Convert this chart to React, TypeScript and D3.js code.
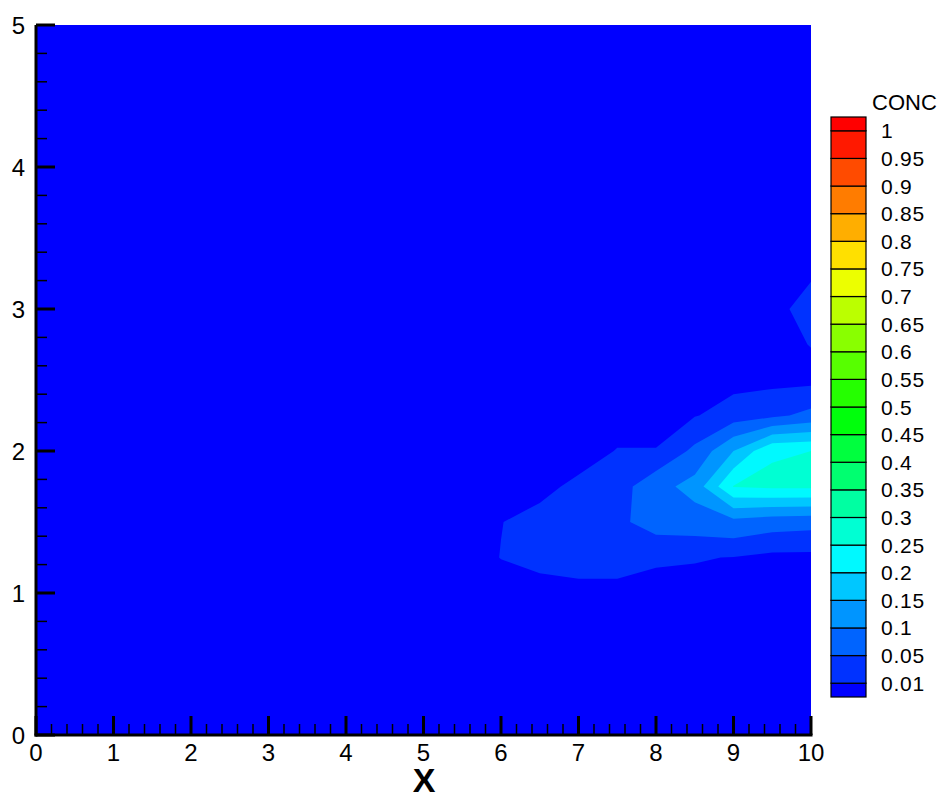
import React from 'react';
import * as d3 from 'd3';

// Grid node coordinates
const xNodes = [0, 0.5, 1, 1.5, 2, 2.5, 3, 3.5, 4, 4.5, 5, 5.5, 6, 6.5, 7, 7.5, 8, 8.5, 9, 9.5, 10];
const yNodes = [0, 0.25, 0.5, 0.75, 1, 1.25, 1.5, 1.75, 2, 2.25, 2.5, 2.75, 3, 3.25, 3.5, 3.75, 4, 4.25, 4.5, 4.75, 5];

// CONC values, one row per yNodes entry (ascending y), one column per xNodes entry
const concRows = [
  [0, 0, 0, 0, 0, 0, 0, 0, 0, 0, 0, 0, 0, 0, 0, 0, 0, 0, 0, 0, 0], // y=0
  [0, 0, 0, 0, 0, 0, 0, 0, 0, 0, 0, 0, 0, 0, 0, 0, 0, 0, 0, 0, 0], // y=0.25
  [0, 0, 0, 0, 0, 0, 0, 0, 0, 0, 0, 0, 0, 0, 0, 0, 0, 0, 0, 0, 0], // y=0.5
  [0, 0, 0, 0, 0, 0, 0, 0, 0, 0, 0, 0, 0, 0, 0, 0, 0, 0, 0, 0, 0], // y=0.75
  [0, 0, 0, 0, 0, 0, 0, 0, 0, 0, 0, 0, 0, 0, 0, 0, 0, 0, 0, 0, 0], // y=1
  [0, 0, 0, 0, 0, 0, 0, 0, 0, 0, 0, 0, 0.0105, 0.018, 0.025, 0.025, 0.014, 0.012, 0.009, 0, 0], // y=1.25
  [0, 0, 0, 0, 0, 0, 0, 0, 0, 0, 0, 0, 0.0095, 0.017, 0.03, 0.04, 0.07, 0.075, 0.085, 0.07, 0.065], // y=1.5
  [0, 0, 0, 0, 0, 0, 0, 0, 0, 0, 0, 0, 0, 0.004, 0.015, 0.03, 0.08, 0.12, 0.252, 0.26, 0.26], // y=1.75
  [0, 0, 0, 0, 0, 0, 0, 0, 0, 0, 0, 0, 0, 0, 0, 0.011, 0.011, 0.06, 0.15, 0.245, 0.25], // y=2
  [0, 0, 0, 0, 0, 0, 0, 0, 0, 0, 0, 0, 0, 0, 0, 0, 0, 0.008, 0.025, 0.04, 0.0625], // y=2.25
  [0, 0, 0, 0, 0, 0, 0, 0, 0, 0, 0, 0, 0, 0, 0, 0, 0, 0, 0, 0, 0], // y=2.5
  [0, 0, 0, 0, 0, 0, 0, 0, 0, 0, 0, 0, 0, 0, 0, 0, 0, 0, 0, 0, 0.011], // y=2.75
  [0, 0, 0, 0, 0, 0, 0, 0, 0, 0, 0, 0, 0, 0, 0, 0, 0, 0, 0, 0.002, 0.02], // y=3
  [0, 0, 0, 0, 0, 0, 0, 0, 0, 0, 0, 0, 0, 0, 0, 0, 0, 0, 0, 0, 0.007], // y=3.25
  [0, 0, 0, 0, 0, 0, 0, 0, 0, 0, 0, 0, 0, 0, 0, 0, 0, 0, 0, 0, 0], // y=3.5
  [0, 0, 0, 0, 0, 0, 0, 0, 0, 0, 0, 0, 0, 0, 0, 0, 0, 0, 0, 0, 0], // y=3.75
  [0, 0, 0, 0, 0, 0, 0, 0, 0, 0, 0, 0, 0, 0, 0, 0, 0, 0, 0, 0, 0], // y=4
  [0, 0, 0, 0, 0, 0, 0, 0, 0, 0, 0, 0, 0, 0, 0, 0, 0, 0, 0, 0, 0], // y=4.25
  [0, 0, 0, 0, 0, 0, 0, 0, 0, 0, 0, 0, 0, 0, 0, 0, 0, 0, 0, 0, 0], // y=4.5
  [0, 0, 0, 0, 0, 0, 0, 0, 0, 0, 0, 0, 0, 0, 0, 0, 0, 0, 0, 0, 0], // y=4.75
  [0, 0, 0, 0, 0, 0, 0, 0, 0, 0, 0, 0, 0, 0, 0, 0, 0, 0, 0, 0, 0], // y=5
];

// Contour levels (legend)
const levels = [0.01, 0.05, 0.1, 0.15, 0.2, 0.25, 0.3, 0.35, 0.4, 0.45, 0.5, 0.55, 0.6, 0.65, 0.7, 0.75, 0.8, 0.85, 0.9, 0.95, 1];
const xTicks = [0, 1, 2, 3, 4, 5, 6, 7, 8, 9, 10];
const yTicks = [0, 1, 2, 3, 4, 5];
const legendTitle = 'CONC';
const xTitle = 'X';

const W = 940;
const H = 796;
const PL = 36, PR = 811, PT = 25, PB = 735;
const FONT = '"Liberation Sans", Arial, Helvetica, sans-serif';

function bandColor(i: number) {
  const h = Math.max(0, 240 - (i * 240) / 20.5);
  return d3.hsl(h, 1, 0.5).formatHex();
}

export default function App() {
  const xScale = d3.scaleLinear().domain([0, 10]).range([PL, PR]);
  const yScale = d3.scaleLinear().domain([0, 5]).range([PB, PT]);

  const nx = xNodes.length;
  const ny = yNodes.length;
  const values = concRows.flat();

  // calibrate d3-contour coordinate offset of grid nodes
  const probe = d3.contours().size([2, 1]).thresholds([0.5])([0, 1]);
  let minX = Infinity;
  probe.forEach((mp: any) =>
    mp.coordinates.forEach((poly: any) =>
      poly.forEach((ring: any) =>
        ring.forEach((p: any) => {
          if (p[0] < minX) minX = p[0];
        })
      )
    )
  );
  const off = isFinite(minX) ? minX - 0.5 : 0.5;

  const cxToData = d3.scaleLinear().domain([off, off + nx - 1]).range([xNodes[0], xNodes[nx - 1]]);
  const cyToData = d3.scaleLinear().domain([off, off + ny - 1]).range([yNodes[0], yNodes[ny - 1]]);
  const proj = d3.geoTransform({
    point(this: any, x: number, y: number) {
      this.stream.point(xScale(cxToData(x)), yScale(cyToData(y)));
    },
  });
  const path = d3.geoPath(proj);
  const contours = d3.contours().size([nx, ny]).thresholds(levels)(values);

  const legendY = d3.scaleLinear().domain([-0.5, levels.length - 0.5]).range([697, 117]);
  const LX = 831, LW = 35;
  const bands = d3.range(levels.length + 1).map((i) => ({
    i,
    y0: legendY(Math.min(i, levels.length - 0.5)),
    y1: legendY(Math.max(i - 1, -0.5)),
  }));

  const xMinor = xScale.ticks(50).filter((t) => Math.abs(t - Math.round(t)) > 1e-6);
  const yMinor = yScale.ticks(25).filter((t) => Math.abs(t - Math.round(t)) > 1e-6);

  return (
    <svg
      width={W}
      height={H}
      viewBox={`0 0 ${W} ${H}`}
      style={{ position: 'absolute', left: 0, top: 0, display: 'block', background: '#fff' }}
      fontFamily={FONT}
    >
      <defs>
        <clipPath id="plotClip">
          <rect x={PL} y={PT} width={PR - PL} height={PB - PT} />
        </clipPath>
      </defs>
      <g clipPath="url(#plotClip)">
        <rect x={PL} y={PT} width={PR - PL} height={PB - PT} fill={bandColor(0)} />
        {contours.map((c: any, k: number) => (
          <path key={k} d={path(c) || ''} fill={bandColor(k + 1)} stroke="none" />
        ))}
      </g>

      {/* axes */}
      <line x1={PL} x2={PL} y1={PT} y2={PB + 1.5} stroke="#000" strokeWidth={3} />
      <line x1={PL - 1.5} x2={PR + 1.5} y1={PB} y2={PB} stroke="#000" strokeWidth={3} />
      {xTicks.map((t) => (
        <line key={'xm' + t} x1={xScale(t)} x2={xScale(t)} y1={PB} y2={PB - 19} stroke="#000" strokeWidth={3} />
      ))}
      {xMinor.map((t) => (
        <line key={'xn' + t} x1={xScale(t)} x2={xScale(t)} y1={PB} y2={PB - 11} stroke="#000" strokeWidth={1.5} />
      ))}
      {yTicks.map((t) => (
        <line key={'ym' + t} x1={PL} x2={PL + 19} y1={yScale(t)} y2={yScale(t)} stroke="#000" strokeWidth={3} />
      ))}
      {yMinor.map((t) => (
        <line key={'yn' + t} x1={PL} x2={PL + 11} y1={yScale(t)} y2={yScale(t)} stroke="#000" strokeWidth={1.5} />
      ))}
      {xTicks.map((t) => (
        <text key={'xl' + t} x={xScale(t)} y={761} fontSize={24} textAnchor="middle" fill="#000">
          {String(t)}
        </text>
      ))}
      {yTicks.map((t) => (
        <text key={'yl' + t} x={25} y={yScale(t) + 8.5} fontSize={24} textAnchor="end" fill="#000">
          {String(t)}
        </text>
      ))}
      <text x={424} y={792} fontSize={34} fontWeight="bold" textAnchor="middle" fill="#000">
        {xTitle}
      </text>

      {/* legend */}
      <text x={872} y={110} fontSize={22} fill="#000">
        {legendTitle}
      </text>
      {bands.map((b) => (
        <rect
          key={'lb' + b.i}
          x={LX}
          y={b.y0}
          width={LW}
          height={b.y1 - b.y0}
          fill={bandColor(b.i)}
          stroke="#000"
          strokeWidth={1.2}
        />
      ))}
      {levels.map((v, k) => (
        <text key={'ll' + k} x={881} y={legendY(k) + 7.5} fontSize={21} letterSpacing={0.8} fill="#000">
          {String(v)}
        </text>
      ))}
    </svg>
  );
}
